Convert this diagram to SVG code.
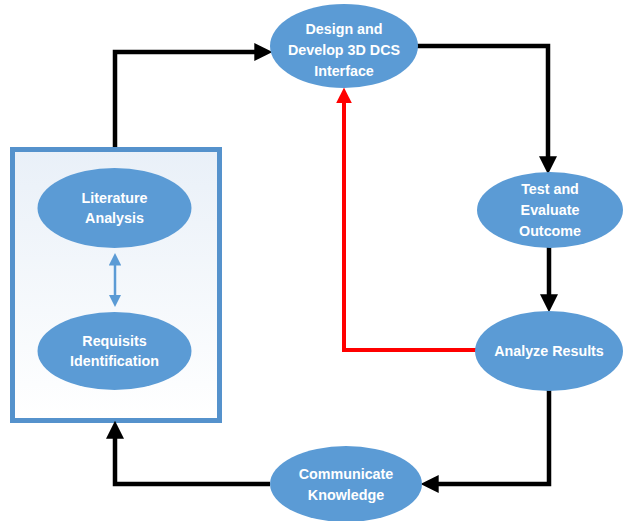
<svg xmlns="http://www.w3.org/2000/svg" width="624" height="521" viewBox="0 0 624 521">
<defs>
<linearGradient id="boxfill" x1="0" y1="0" x2="0" y2="1">
<stop offset="0" stop-color="#e9f0f8"/>
<stop offset="1" stop-color="#ffffff"/>
</linearGradient>
<marker id="ah" markerWidth="4" markerHeight="4" refX="2.6" refY="2" orient="auto" markerUnits="strokeWidth">
<path d="M0,0 L4,2 L0,4 Z" fill="#000"/>
</marker>
<marker id="ahr" markerWidth="4" markerHeight="4" refX="2.6" refY="2" orient="auto" markerUnits="strokeWidth">
<path d="M0,0 L4,2 L0,4 Z" fill="#ff0000"/>
</marker>
<marker id="ahb" markerWidth="5" markerHeight="5" refX="3" refY="2.5" orient="auto-start-reverse" markerUnits="strokeWidth">
<path d="M0,0 L5,2.5 L0,5 Z" fill="#5b9bd5"/>
</marker>
</defs>
<style>
.node ellipse{fill:#5b9bd5;}
.node text{fill:#ffffff;font-family:"Liberation Sans",Arial,sans-serif;font-weight:bold;font-size:14.3px;text-anchor:middle;}
.conn{fill:none;stroke:#000;stroke-width:4.5;marker-end:url(#ah);}
.red{fill:none;stroke:#ff0000;stroke-width:4;marker-end:url(#ahr);}
</style>
<rect width="624" height="521" fill="#ffffff"/>
<g id="box">
<rect x="12.5" y="149.5" width="207" height="271" fill="url(#boxfill)" stroke="#5592cc" stroke-width="5"/>
</g>
<g id="connectors">
<path class="conn" d="M115,147 V52 H266"/>
<path class="conn" d="M417,46 H548 V168"/>
<path class="conn" d="M549,247 V306"/>
<path class="conn" d="M549,390 V484 H427"/>
<path class="conn" d="M270,484 H115 V427"/>
<path class="red" d="M477,350 H344 V93"/>
<path d="M115,258 V302" fill="none" stroke="#5b9bd5" stroke-width="2.5" marker-start="url(#ahb)" marker-end="url(#ahb)"/>
</g>
<g id="literature" class="node">
<ellipse cx="114.5" cy="208" rx="77" ry="40"/>
<text x="114.5" y="203">Literature</text>
<text x="114.5" y="223">Analysis</text>
</g>
<g id="requisits" class="node">
<ellipse cx="114.5" cy="351" rx="77" ry="39"/>
<text x="114.5" y="346">Requisits</text>
<text x="114.5" y="366">Identification</text>
</g>
<g id="design" class="node">
<ellipse cx="344" cy="46" rx="74" ry="42"/>
<text x="344" y="34">Design and</text>
<text x="344" y="55">Develop 3D DCS</text>
<text x="344" y="76">Interface</text>
</g>
<g id="test" class="node">
<ellipse cx="550" cy="210" rx="73" ry="38"/>
<text x="550" y="194">Test and</text>
<text x="550" y="215">Evaluate</text>
<text x="550" y="236">Outcome</text>
</g>
<g id="analyze" class="node">
<ellipse cx="549" cy="351" rx="74" ry="40"/>
<text x="549" y="356">Analyze Results</text>
</g>
<g id="communicate" class="node">
<ellipse cx="346" cy="484" rx="76" ry="38"/>
<text x="346" y="479">Communicate</text>
<text x="346" y="500">Knowledge</text>
</g>
</svg>
